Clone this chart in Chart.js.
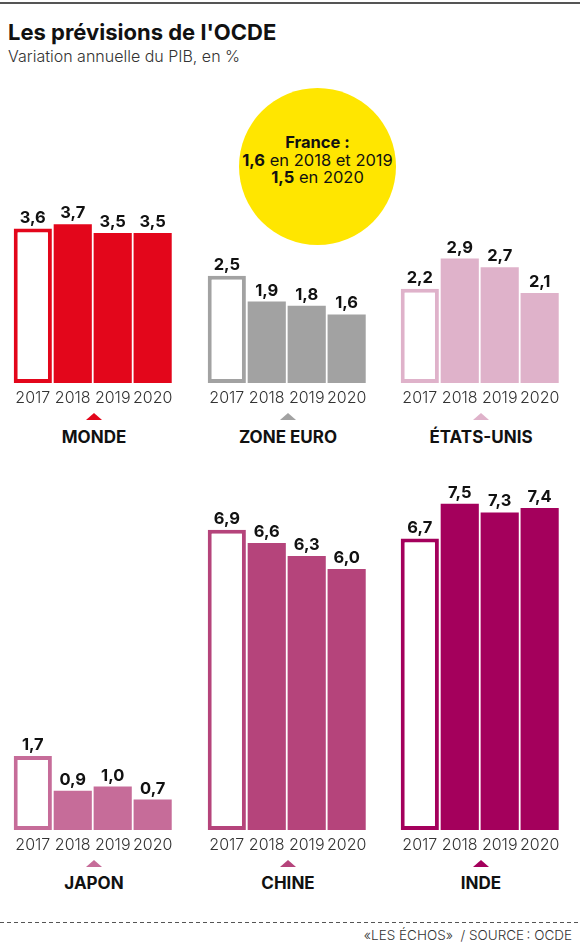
<!DOCTYPE html>
<html lang="fr">
<head>
<meta charset="utf-8">
<title>Les prévisions de l'OCDE</title>
<script src="https://cdn.jsdelivr.net/npm/chart.js@4"></script>
<style>
  html, body { margin: 0; padding: 0; background: #fff; }
  body { width: 580px; height: 943px; position: relative; overflow: hidden;
         font-family: Inter, Roboto, "Noto Sans", sans-serif; color: #111; }
  .rule { position: absolute; left: 0; top: 2px; width: 580px; border-top: 2px solid #555; }
  h1 { position: absolute; left: 8px; top: 18px; margin: 0; font-size: 22px; font-weight: 700; line-height: 28px; }
  .sub { position: absolute; left: 8px; top: 46px; font-size: 16px; font-weight: 300; color: #333; line-height: 20px; }
  .bubble { position: absolute; left: 239px; top: 88px; width: 157px; height: 157px; border-radius: 50%;
            background: #ffe600; text-align: center; font-size: 16.5px; line-height: 17.5px;
            box-sizing: border-box; padding-top: 46px; white-space: nowrap; }
  .bubble b { font-weight: 700; }
  .panel { position: absolute; width: 168px; }
  .tri { position: absolute; width: 0; height: 0; border-left: 8px solid transparent;
         border-right: 8px solid transparent; border-bottom: 7px solid #000; }
  .name { position: absolute; width: 168px; text-align: center; font-size: 17px; font-weight: 700; line-height: 20px; }
  .dash { position: absolute; left: 0; top: 922px; width: 580px; height: 1px;
          background: repeating-linear-gradient(to right, #555 0 4px, transparent 4px 7px); }
  .source { position: absolute; right: 8px; top: 927px; font-size: 13.5px; font-weight: 300; color: #333; line-height: 16px; }
</style>
</head>
<body>
<div class="rule"></div>
<h1>Les prévisions de l'OCDE</h1>
<div class="sub">Variation annuelle du PIB, en %</div>
<div class="bubble"><b>France&nbsp;:</b><br><b>1,6</b> en 2018 et 2019<br><b>1,5</b> en 2020</div>
<div id="panels"></div>
<div class="dash"></div>
<div class="source">«LES ÉCHOS»&nbsp; / SOURCE&#8239;: OCDE</div>

<script>
// ── Data ──────────────────────────────────────────────────────
const years     = ['2017', '2018', '2019', '2020'];
const monde     = [3.6, 3.7, 3.5, 3.5];
const zoneEuro  = [2.5, 1.9, 1.8, 1.6];
const etatsUnis = [2.2, 2.9, 2.7, 2.1];
const japon     = [1.7, 0.9, 1.0, 0.7];
const chine     = [6.9, 6.6, 6.3, 6.0];
const inde      = [6.7, 7.5, 7.3, 7.4];

// ── Layout ────────────────────────────────────────────────────
const rows = {
    top:    { canvasTop: 175, height: 232, yMax: 4.5, tri: 413, name: 427 },
    bottom: { canvasTop: 467, height: 387, yMax: 8,   tri: 860, name: 873 }
};

const panels = [
    { name: 'MONDE',      values: monde,     color: '#e3061b', left: 10,  row: 'top' },
    { name: 'ZONE EURO',  values: zoneEuro,  color: '#a2a2a2', left: 204, row: 'top' },
    { name: 'ÉTATS-UNIS', values: etatsUnis, color: '#dfb2ca', left: 397, row: 'top' },
    { name: 'JAPON',      values: japon,     color: '#c66c99', left: 10,  row: 'bottom' },
    { name: 'CHINE',      values: chine,     color: '#b5447b', left: 204, row: 'bottom' },
    { name: 'INDE',       values: inde,      color: '#a4005c', left: 397, row: 'bottom' }
];

// ── Value labels above bars ──────────────────────────────────
const valueLabels = {
    id: 'valueLabels',
    afterDatasetsDraw(chart) {
        const ctx  = chart.ctx;
        const meta = chart.getDatasetMeta(0);
        const data = chart.data.datasets[0].data;
        ctx.save();
        ctx.font = '700 16.5px Inter';
        ctx.fillStyle = '#111';
        ctx.textAlign = 'center';
        ctx.textBaseline = 'alphabetic';
        meta.data.forEach((bar, i) => {
            ctx.fillText(data[i].toFixed(1).replace('.', ','), bar.x, bar.y - 6);
        });
        ctx.restore();
    }
};

// ── Build panels ─────────────────────────────────────────────
const host = document.getElementById('panels');

panels.forEach(p => {
    const r = rows[p.row];

    const box = document.createElement('div');
    box.className = 'panel';
    box.style.left = p.left + 'px';
    box.style.top  = r.canvasTop + 'px';
    box.style.height = r.height + 'px';
    const canvas = document.createElement('canvas');
    canvas.width = 168;
    canvas.height = r.height;
    box.appendChild(canvas);
    host.appendChild(box);

    const tri = document.createElement('div');
    tri.className = 'tri';
    tri.style.left = (p.left + 84 - 8) + 'px';
    tri.style.top  = r.tri + 'px';
    tri.style.borderBottomColor = p.color;
    host.appendChild(tri);

    const name = document.createElement('div');
    name.className = 'name';
    name.style.left = p.left + 'px';
    name.style.top  = r.name + 'px';
    name.textContent = p.name;
    host.appendChild(name);

    new Chart(canvas.getContext('2d'), {
        type: 'bar',
        data: {
            labels: years,
            datasets: [{
                data: p.values,
                backgroundColor: ['#fff', p.color, p.color, p.color],
                borderColor: p.color,
                borderWidth: [4, 0, 0, 0],
                borderSkipped: false,
                barPercentage: 0.955,
                categoryPercentage: 1
            }]
        },
        options: {
            responsive: false,
            animation: false,
            events: [],
            layout: { padding: { top: 15, left: 0, right: 0, bottom: 0 } },
            plugins: { legend: { display: false }, tooltip: { enabled: false } },
            scales: {
                x: {
                    grid: { display: false, drawTicks: false },
                    border: { display: false },
                    ticks: {
                        color: '#333',
                        font: { family: 'Inter', size: 16, weight: '300' },
                        padding: 6,
                        maxRotation: 0,
                        autoSkip: false
                    },
                    afterFit: s => { s.height = 24; }
                },
                y: {
                    display: false,
                    min: 0,
                    max: r.yMax
                }
            }
        },
        plugins: [valueLabels]
    });
});
</script>
</body>
</html>
